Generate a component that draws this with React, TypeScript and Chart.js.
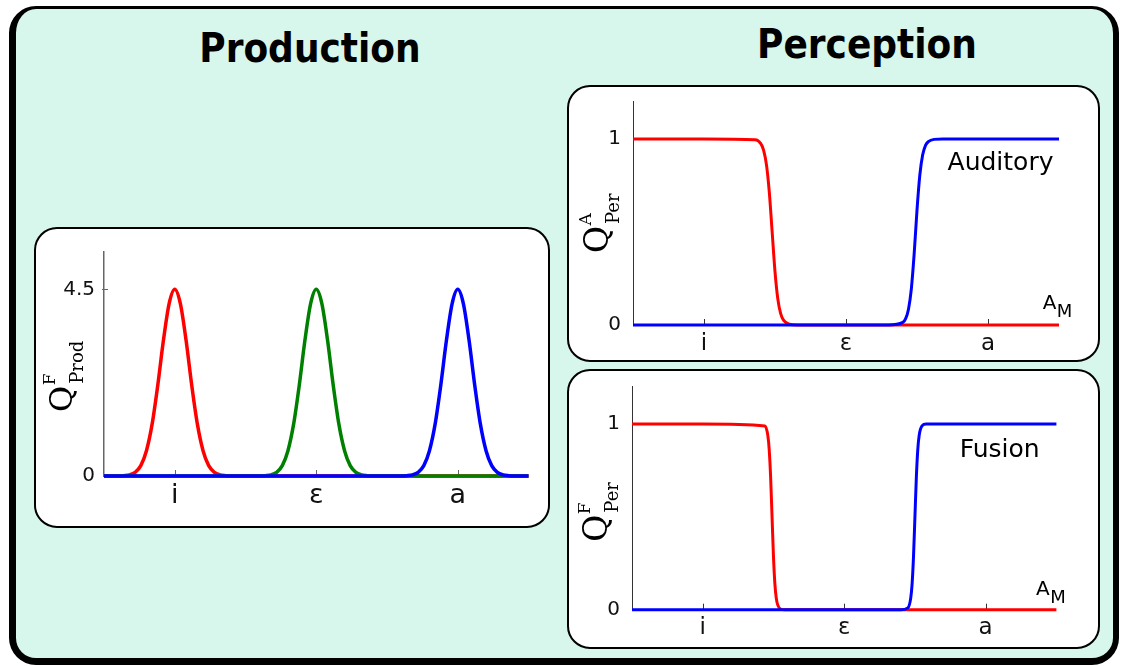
import React, { useEffect, useRef } from 'react';
import { Chart, registerables } from 'chart.js';

Chart.register(...registerables);

// ---------------- data ----------------
const categories = ['i', 'ε', 'a'];
const categoryPositions = [1, 2, 3];
const productionYTicks = [0, 4.5];
const perceptionYTicks = [0, 1];

type Pt = [number, number];

// Production: Q^F_Prod curves (peaks at i, ε, a)
const productionRed: Pt[] = [
  [0.5, 0], [0.6, 0], [0.64, 0.007], [0.68, 0.027], [0.72, 0.089], [0.76, 0.25], [0.8, 0.61],
  [0.84, 1.25], [0.88, 2.19], [0.92, 3.27], [0.96, 4.15], [1.0, 4.5], [1.04, 4.15], [1.08, 3.27],
  [1.12, 2.19], [1.16, 1.25], [1.2, 0.61], [1.24, 0.25], [1.28, 0.089], [1.32, 0.027], [1.36, 0.007],
  [1.4, 0], [3.5, 0],
];
const productionGreen: Pt[] = [
  [0.5, 0], [1.6, 0], [1.64, 0.007], [1.68, 0.027], [1.72, 0.089], [1.76, 0.25], [1.8, 0.61],
  [1.84, 1.25], [1.88, 2.19], [1.92, 3.27], [1.96, 4.15], [2.0, 4.5], [2.04, 4.15], [2.08, 3.27],
  [2.12, 2.19], [2.16, 1.25], [2.2, 0.61], [2.24, 0.25], [2.28, 0.089], [2.32, 0.027], [2.36, 0.007],
  [2.4, 0], [3.5, 0],
];
const productionBlue: Pt[] = [
  [0.5, 0], [2.6, 0], [2.64, 0.007], [2.68, 0.027], [2.72, 0.089], [2.76, 0.25], [2.8, 0.61],
  [2.84, 1.25], [2.88, 2.19], [2.92, 3.27], [2.96, 4.15], [3.0, 4.5], [3.04, 4.15], [3.08, 3.27],
  [3.12, 2.19], [3.16, 1.25], [3.2, 0.61], [3.24, 0.25], [3.28, 0.089], [3.32, 0.027], [3.36, 0.007],
  [3.4, 0], [3.5, 0],
];

// Perception, auditory: Q^A_Per
const auditoryRed: Pt[] = [
  [0.5, 1], [1.0, 1], [1.36, 0.996], [1.4, 0.975], [1.42, 0.939], [1.44, 0.861], [1.46, 0.713],
  [1.48, 0.5], [1.5, 0.287], [1.52, 0.139], [1.54, 0.061], [1.56, 0.026], [1.6, 0.004], [1.66, 0],
  [3.5, 0],
];
const auditoryBlue: Pt[] = [
  [0.5, 0], [2.3, 0], [2.4, 0.014], [2.42, 0.034], [2.44, 0.085], [2.46, 0.193], [2.48, 0.382],
  [2.5, 0.618], [2.52, 0.807], [2.54, 0.915], [2.56, 0.966], [2.58, 0.986], [2.62, 0.998], [2.68, 1],
  [3.5, 1],
];

// Perception, fusion: Q^F_Per
const fusionRed: Pt[] = [
  [0.5, 1], [1.0, 1], [1.44, 0.99], [1.46, 0.939], [1.47, 0.861], [1.48, 0.713], [1.49, 0.5],
  [1.5, 0.287], [1.51, 0.139], [1.52, 0.061], [1.53, 0.026], [1.55, 0.004], [1.58, 0], [3.5, 0],
];
const fusionBlue: Pt[] = [
  [0.5, 0], [2.4, 0], [2.45, 0.01], [2.47, 0.061], [2.48, 0.139], [2.49, 0.287], [2.5, 0.5],
  [2.51, 0.713], [2.52, 0.861], [2.53, 0.939], [2.55, 0.99], [2.58, 1], [3.5, 1],
];

// ---------------- styling ----------------
const RED = '#ff0000';
const GREEN = '#008000';
const BLUE = '#0000ff';
const SANS = '"DejaVu Sans", Verdana, sans-serif';
const SERIF = '"DejaVu Serif", serif';
const MINT = 'rgb(215, 246, 236)';

type Note = { text: string; x: number; y: number; size: number; sub?: string; subSize?: number; subDy?: number };

type Spec = {
  series: { points: Pt[]; color: string }[];
  lineWidth: number;
  yMax: number;
  yTicks: number[];
  yTickMarks: number[];
  yLabelPad: number;
  yLabelSize: number;
  xLabelSize: number;
  xLabelPad: number;
  yAxisWidth: number;
  xAxisHeight: number;
  padTop: number;
  padRight: number;
  axisColor: string;
  axisWidth: number;
  q: { sup: string; sub: string; dx: number; dy: number; size: number };
  notes: Note[];
};

function createChart(canvas: HTMLCanvasElement, spec: Spec) {
  const decorations = {
    id: 'decorations',
    beforeDatasetsDraw(chart: any) {
      const { ctx, chartArea, scales } = chart;
      ctx.save();
      ctx.strokeStyle = spec.axisColor;
      ctx.lineWidth = 1;
      categoryPositions.forEach((v) => {
        const px = Math.round(scales.x.getPixelForValue(v)) + 0.5;
        ctx.beginPath();
        ctx.moveTo(px, chartArea.bottom);
        ctx.lineTo(px, chartArea.bottom - 6);
        ctx.stroke();
      });
      spec.yTickMarks.forEach((v) => {
        const py = Math.round(scales.y.getPixelForValue(v)) + 0.5;
        ctx.beginPath();
        ctx.moveTo(chartArea.left - 2, py);
        ctx.lineTo(chartArea.left + 4, py);
        ctx.stroke();
      });
      ctx.restore();
    },
    afterDatasetsDraw(chart: any) {
      const { ctx, chartArea, scales } = chart;
      ctx.save();
      ctx.fillStyle = '#000';
      ctx.textAlign = 'left';
      ctx.textBaseline = 'alphabetic';
      spec.notes.forEach((n) => {
        const px = scales.x.getPixelForValue(n.x);
        const py = scales.y.getPixelForValue(n.y);
        ctx.font = `${n.size}px ${SANS}`;
        ctx.fillText(n.text, px, py);
        if (n.sub) {
          const w = ctx.measureText(n.text).width;
          ctx.font = `${n.subSize}px ${SANS}`;
          ctx.fillText(n.sub, px + w + 0.5, py + (n.subDy || 0));
        }
      });
      // rotated axis title Q^sup_sub
      const q = spec.q;
      ctx.translate(chartArea.left + q.dx, chartArea.bottom + q.dy);
      ctx.rotate(-Math.PI / 2);
      ctx.font = `${q.size}px ${SERIF}`;
      ctx.fillText('Q', 0, 0);
      const qw = ctx.measureText('Q').width;
      ctx.font = `17px ${SERIF}`;
      ctx.fillText(q.sup, qw + 0.5, -17);
      ctx.font = `18px ${SERIF}`;
      ctx.fillText(q.sub, qw + 2, 11);
      ctx.restore();
    },
  };

  const datasets = spec.series.map((s) => ({
    data: s.points.map(([x, y]) => ({ x, y })),
    borderColor: s.color,
    backgroundColor: s.color,
    borderWidth: spec.lineWidth,
    pointRadius: 0,
    fill: false,
    clip: 8,
    cubicInterpolationMode: 'monotone' as const,
    tension: 0.4,
  }));

  return new Chart(canvas, {
    type: 'line',
    data: { datasets },
    plugins: [decorations],
    options: {
      animation: false,
      responsive: false,
      maintainAspectRatio: false,
      events: [],
      layout: { padding: { top: spec.padTop, right: spec.padRight, left: 0, bottom: 0 } },
      plugins: {
        legend: { display: false },
        tooltip: { enabled: false },
        title: { display: false },
      },
      scales: {
        x: {
          type: 'linear',
          min: 0.5,
          max: 3.5,
          afterBuildTicks: (s: any) => {
            s.ticks = categoryPositions.map((v) => ({ value: v }));
          },
          afterFit: (s: any) => {
            s.height = spec.xAxisHeight;
            s.paddingLeft = 0;
            s.paddingRight = 0;
          },
          ticks: {
            autoSkip: false,
            maxRotation: 0,
            padding: spec.xLabelPad,
            color: '#111',
            font: { family: SANS, size: spec.xLabelSize },
            callback: (_v: any, i: number) => categories[i],
          },
          grid: { display: false, drawTicks: false },
          border: { display: false },
        },
        y: {
          type: 'linear',
          min: 0,
          max: spec.yMax,
          afterBuildTicks: (s: any) => {
            s.ticks = spec.yTicks.map((v) => ({ value: v }));
          },
          afterFit: (s: any) => {
            s.width = spec.yAxisWidth;
            s.paddingTop = 0;
            s.paddingBottom = 0;
          },
          ticks: {
            padding: spec.yLabelPad,
            color: '#111',
            font: { family: SANS, size: spec.yLabelSize },
            callback: (v: any) => String(v),
          },
          grid: { display: false, drawTicks: false },
          border: { display: true, color: spec.axisColor, width: spec.axisWidth },
        },
      },
    } as any,
  });
}

const productionSpec: Spec = {
  series: [
    { points: productionBlue, color: BLUE },
    { points: productionGreen, color: GREEN },
    { points: productionRed, color: RED },
  ],
  lineWidth: 3.5,
  yMax: 5.4,
  yTicks: productionYTicks,
  yTickMarks: [4.5],
  yLabelPad: 9,
  yLabelSize: 20,
  xLabelSize: 27,
  xLabelPad: 4,
  yAxisWidth: 64,
  xAxisHeight: 46,
  padTop: 16,
  padRight: 16.5,
  axisColor: '#666',
  axisWidth: 1.5,
  q: { sup: 'F', sub: 'Prod', dx: -32, dy: -64, size: 32 },
  notes: [],
};

const auditorySpec: Spec = {
  series: [
    { points: auditoryBlue, color: BLUE },
    { points: auditoryRed, color: RED },
  ],
  lineWidth: 3,
  yMax: 1.2,
  yTicks: perceptionYTicks,
  yTickMarks: [],
  yLabelPad: 12,
  yLabelSize: 20,
  xLabelSize: 23,
  xLabelPad: 5,
  yAxisWidth: 61,
  xAxisHeight: 33,
  padTop: 17.8,
  padRight: 36,
  axisColor: '#333',
  axisWidth: 1,
  q: { sup: 'A', sub: 'Per', dx: -25, dy: -72, size: 33 },
  notes: [
    { text: 'Auditory', x: 2.715, y: 0.833, size: 25 },
    { text: 'A', x: 3.385, y: 0.086, size: 20, sub: 'M', subSize: 18, subDy: 8 },
  ],
};

const fusionSpec: Spec = {
  series: [
    { points: fusionBlue, color: BLUE },
    { points: fusionRed, color: RED },
  ],
  lineWidth: 3,
  yMax: 1.2,
  yTicks: perceptionYTicks,
  yTickMarks: [],
  yLabelPad: 12,
  yLabelSize: 20,
  xLabelSize: 23,
  xLabelPad: 5,
  yAxisWidth: 60,
  xAxisHeight: 36.3,
  padTop: 18.9,
  padRight: 38.6,
  axisColor: '#333',
  axisWidth: 1,
  q: { sup: 'F', sub: 'Per', dx: -25, dy: -68, size: 33 },
  notes: [
    { text: 'Fusion', x: 2.816, y: 0.824, size: 25 },
    { text: 'A', x: 3.356, y: 0.079, size: 20, sub: 'M', subSize: 18, subDy: 8 },
  ],
};

const abs = (left: number, top: number, width: number, height: number): React.CSSProperties => ({
  position: 'absolute',
  left,
  top,
  width,
  height,
  boxSizing: 'border-box',
});

function Panel({ left, top, width, height }: { left: number; top: number; width: number; height: number }) {
  return (
    <div
      style={{
        ...abs(left, top, width, height),
        background: '#fff',
        border: '2px solid #000',
        borderRadius: 23,
      }}
    />
  );
}

export default function App() {
  const leftRef = useRef<HTMLCanvasElement>(null);
  const topRef = useRef<HTMLCanvasElement>(null);
  const bottomRef = useRef<HTMLCanvasElement>(null);

  useEffect(() => {
    const charts: Chart[] = [];
    if (leftRef.current) charts.push(createChart(leftRef.current, productionSpec));
    if (topRef.current) charts.push(createChart(topRef.current, auditorySpec));
    if (bottomRef.current) charts.push(createChart(bottomRef.current, fusionSpec));
    return () => charts.forEach((c) => c.destroy());
  }, []);

  const titleStyle: React.CSSProperties = {
    position: 'absolute',
    textAlign: 'center',
    fontFamily: '"DejaVu Sans Condensed", "DejaVu Sans", sans-serif',
    fontStretch: 'condensed',
    fontWeight: 'bold',
    fontSize: 40,
    lineHeight: '40px',
    color: '#000',
    whiteSpace: 'nowrap',
  };

  return (
    <div style={{ position: 'fixed', left: 0, top: 0, width: 1123, height: 666, background: '#fff', overflow: 'hidden' }}>
      <div
        style={{
          ...abs(9, 6, 1110, 659),
          background: MINT,
          borderStyle: 'solid',
          borderColor: '#000',
          borderWidth: '3.5px 6px 7px 7px',
          borderRadius: 27,
        }}
      />
      <div style={{ ...titleStyle, left: 0, top: 28, width: 620 }}>Production</div>
      <div style={{ ...titleStyle, left: 567, top: 24, width: 600 }}>Perception</div>

      <Panel left={34} top={227} width={516} height={301} />
      <Panel left={567} top={85} width={533} height={277} />
      <Panel left={567} top={369} width={533} height={280} />

      <canvas ref={leftRef} width={505} height={286} style={{ position: 'absolute', left: 40, top: 236, width: 505, height: 286 }} />
      <canvas ref={topRef} width={523} height={274} style={{ position: 'absolute', left: 572, top: 84, width: 523, height: 274 }} />
      <canvas ref={bottomRef} width={523} height={278} style={{ position: 'absolute', left: 572, top: 368, width: 523, height: 278 }} />
    </div>
  );
}
